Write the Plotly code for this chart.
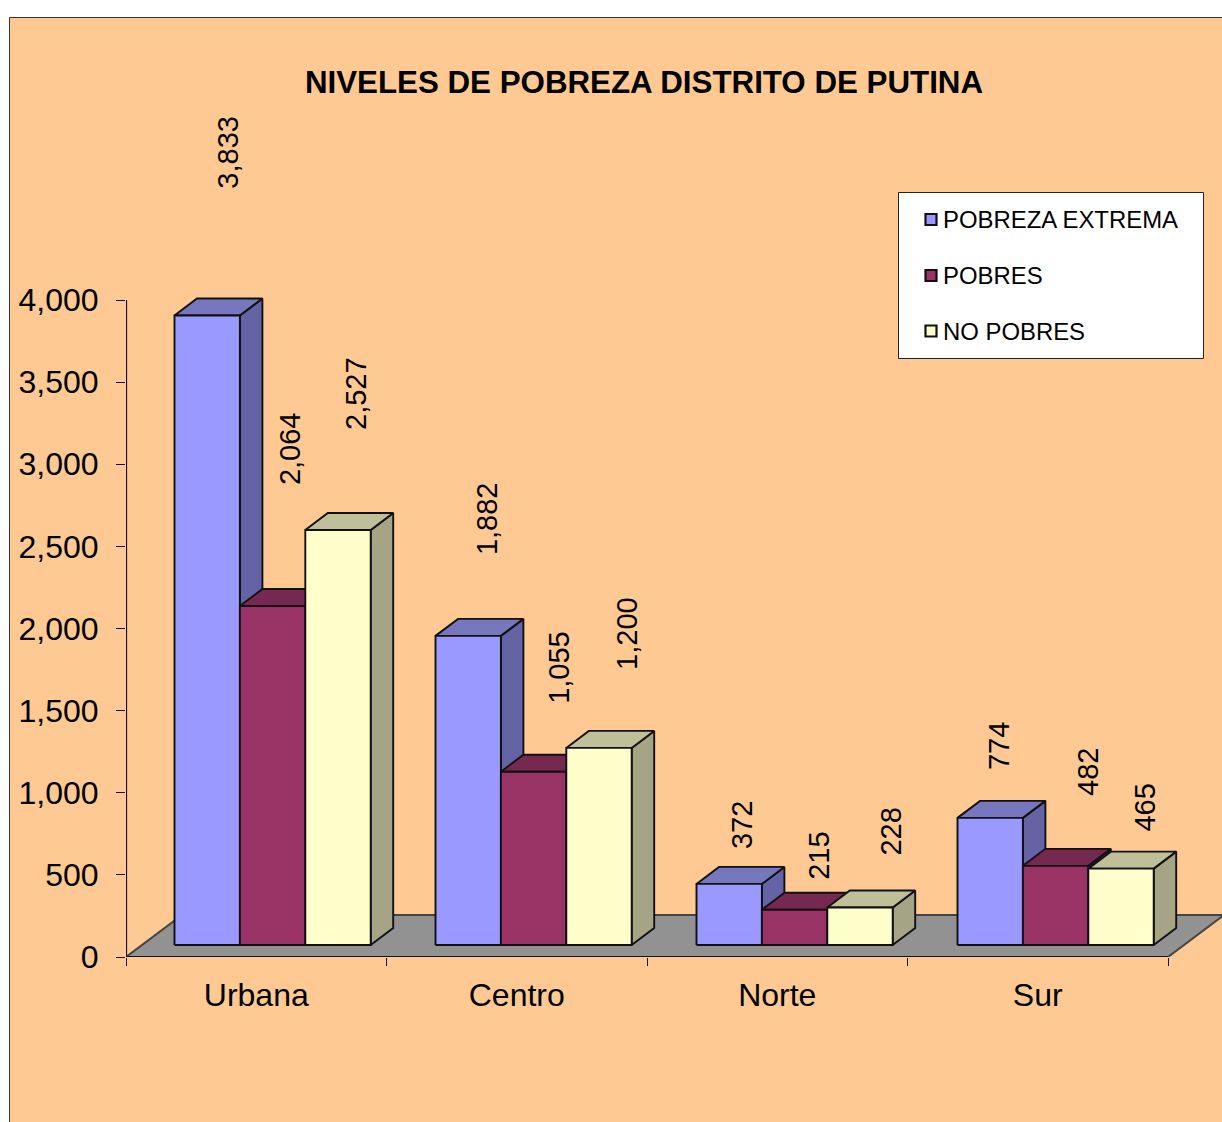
import plotly.graph_objects as go

CATEGORIES = ["Urbana", "Centro", "Norte", "Sur"]
SERIES_NAMES = ["POBREZA EXTREMA", "POBRES", "NO POBRES"]
POBREZA_EXTREMA = [3833, 1882, 372, 774]
POBRES = [2064, 1055, 215, 482]
NO_POBRES = [2527, 1200, 228, 465]
Y_TICKS = [0, 500, 1000, 1500, 2000, 2500, 3000, 3500, 4000]
TITLE = "NIVELES DE POBREZA DISTRITO DE PUTINA"

# styles
FONT = "Liberation Sans"
FRONT = ["#9999FF", "#993366", "#FFFFCC"]
SIDE = ["#6363A5", "#652243", "#A5A585"]
TOP = ["#7777BD", "#752850", "#BFBF99"]
BG = "#FFC993"
EDGE = "#111111"

# pixel geometry of the plot
W, H = 1222, 1122
PX_X0, PX_Y0 = 126, 957
PX_PER_CAT = 260.5
PX_PER_UNIT = 0.16425

# pseudo-3D layout, in px
BAR_W_PX = 65.4
BAR_LEFT_PX = 48.5
GROUP_STEP_PX = 261
BASE_PX = 12
DEPTH_X_PX, DEPTH_Y_PX = 22.5, 17
FLOOR_X_PX, FLOOR_Y_PX = 56, 42

# label nudges in px (per series, per category)
LABEL_DX = [[21, 19, 13, 9], [17.5, 25.5, 24.5, 32.5], [18, 28, 31, 24]]
LABEL_DY = [[163, 117, 59, 72], [157, 104, 54, 94], [136, 114, 76, 61]]

cx = lambda px: px / PX_PER_CAT
cy = lambda px: px / PX_PER_UNIT
X_MAX = (W - PX_X0) / PX_PER_CAT
Y_MAX = PX_Y0 / PX_PER_UNIT
px2paper_x = lambda px: (px - PX_X0) / (W - PX_X0)
px2paper_y = lambda py: (PX_Y0 - py) / PX_Y0

fig = go.Figure()


def poly(xs, ys, fill, line=EDGE, width=1.9):
    fig.add_trace(go.Scatter(
        x=xs + xs[:1], y=ys + ys[:1], mode="lines", fill="toself",
        fillcolor=fill, line=dict(color=line, width=width),
        hoverinfo="skip", showlegend=False, cliponaxis=False))


# floor
poly([0, 4, 4 + cx(FLOOR_X_PX), cx(FLOOR_X_PX)], [0, 0, cy(FLOOR_Y_PX), cy(FLOOR_Y_PX)],
     "#929292", line="#444444", width=2)

# bars
values = [POBREZA_EXTREMA, POBRES, NO_POBRES]
dx, dy = cx(DEPTH_X_PX), cy(DEPTH_Y_PX)
bw = cx(BAR_W_PX)
base = cy(BASE_PX)


def bar_left(g, s):
    return cx(g * GROUP_STEP_PX + BAR_LEFT_PX) + s * bw


for g in range(len(CATEGORIES)):
    for s in range(3):
        x0 = bar_left(g, s)
        x1 = x0 + bw
        top = base + values[s][g]
        poly([x1, x1 + dx, x1 + dx, x1], [base, base + dy, top + dy, top], SIDE[s])
        poly([x0, x0 + dx, x1 + dx, x1], [top, top + dy, top + dy, top], TOP[s])
        poly([x0, x1, x1, x0], [base, base, top, top], FRONT[s])

# axis lines
fig.add_trace(go.Scatter(x=[0, 0], y=[0, Y_TICKS[-1]], mode="lines",
                         line=dict(color="#111111", width=2.2),
                         hoverinfo="skip", showlegend=False, cliponaxis=False))
fig.add_trace(go.Scatter(x=[0, 4], y=[0, 0], mode="lines",
                         line=dict(color="#111111", width=2.2),
                         hoverinfo="skip", showlegend=False, cliponaxis=False))

annotations = []
for s in range(3):
    for g in range(len(CATEGORIES)):
        annotations.append(dict(
            x=bar_left(g, s) + bw / 2, y=base + values[s][g], xref="x", yref="y",
            text=f"{values[s][g]:,}", showarrow=False, textangle=-90,
            xshift=LABEL_DX[s][g], yshift=LABEL_DY[s][g],
            xanchor="center", yanchor="middle",
            font=dict(family=FONT, size=29, color="#000000")))

# background panel and legend box
shapes = [dict(type="rect", xref="paper", yref="paper", layer="below",
               x0=px2paper_x(9.5), x1=px2paper_x(1400),
               y0=px2paper_y(17.5), y1=px2paper_y(1300),
               fillcolor=BG, line=dict(color="#333333", width=1)),
          dict(type="rect", xref="paper", yref="paper", layer="above",
               x0=px2paper_x(898.5), x1=px2paper_x(1203.5),
               y0=px2paper_y(192.5), y1=px2paper_y(358.5),
               fillcolor="#FFFFFF", line=dict(color="#222222", width=1))]
LEGEND_Y_PX = [219.5, 275.5, 331]
for s, name in enumerate(SERIES_NAMES):
    yc = LEGEND_Y_PX[s]
    shapes.append(dict(type="rect", xref="paper", yref="paper", layer="above",
                       x0=px2paper_x(925.5), x1=px2paper_x(936.5),
                       y0=px2paper_y(yc - 5.5), y1=px2paper_y(yc + 5.5),
                       fillcolor=FRONT[s], line=dict(color="#111111", width=2.2)))
    annotations.append(dict(
        x=px2paper_x(943), y=px2paper_y(yc), xref="paper", yref="paper",
        text=name, showarrow=False, xanchor="left", yanchor="middle",
        xshift=-2, font=dict(family=FONT, size=23.9, color="#000000")))

fig.update_layout(
    width=W, height=H,
    margin=dict(l=PX_X0, r=0, t=0, b=H - PX_Y0, autoexpand=False),
    paper_bgcolor="#FFFFFF", plot_bgcolor="rgba(0,0,0,0)",
    showlegend=False,
    title=dict(text=f"<b>{TITLE}</b>", xref="container", yref="container",
               x=644 / W, y=1 - 82 / H, xanchor="center", yanchor="middle",
               font=dict(family=FONT, size=31.3, color="#000000")),
    shapes=shapes, annotations=annotations,
    xaxis=dict(range=[0, X_MAX], showgrid=False, zeroline=False, showline=False,
               tickmode="array", tickvals=[i + 0.5 for i in range(len(CATEGORIES))],
               ticktext=CATEGORIES, ticks="", ticklabelstandoff=16,
               tickfont=dict(family=FONT, size=32, color="#000000"),
               minor=dict(tickmode="array", tickvals=list(range(len(CATEGORIES) + 1)),
                          ticks="outside", ticklen=8, tickwidth=1.3,
                          tickcolor="#111111", showgrid=False)),
    yaxis=dict(range=[0, Y_MAX], showgrid=False, zeroline=False, showline=False,
               tickmode="array", tickvals=Y_TICKS, tickformat=",d",
               ticks="outside", ticklen=9, tickwidth=1.3, tickcolor="#111111",
               ticklabelstandoff=11,
               tickfont=dict(family=FONT, size=32, color="#000000")),
)

fig.write_html("out.html", config=dict(displayModeBar=False),
               post_script="document.body.style.margin='0';document.body.style.overflow='hidden';")
